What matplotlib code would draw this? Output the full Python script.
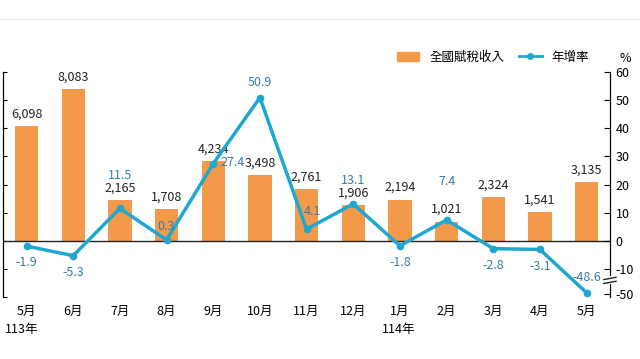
import numpy as np
import matplotlib.pyplot as plt
from matplotlib.patches import Patch
from matplotlib.lines import Line2D
import matplotlib.transforms as mtransforms

plt.rcParams['font.family'] = ['Noto Sans CJK TC', 'DejaVu Sans']

months = ['5月', '6月', '7月', '8月', '9月', '10月', '11月', '12月',
          '1月', '2月', '3月', '4月', '5月']
revenue = [6098, 8083, 2165, 1708, 4234, 3498, 2761, 1906, 2194, 1021, 2324, 1541, 3135]
growth = [-1.9, -5.3, 11.5, 0.3, 27.4, 50.9, 4.1, 13.1, -1.8, 7.4, -2.8, -3.1, -48.6]
right_ticks = [-50, -10, 0, 10, 20, 30, 40, 50, 60]

bar_c = '#F39A4A'
line_c = '#1EA7D0'
lab_c = '#3B7BA6'


def brk(v):
    # broken axis below -10
    return v if v >= -10 else -10 + (v + 10) * 0.22


fig = plt.figure(figsize=(6.4, 3.59), dpi=100)
ax = fig.add_axes([0.005, 0.1727, 0.948, 0.6267])
ax2 = ax.twinx()

x = np.arange(len(months))
ax.bar(x, revenue, width=0.5, color=bar_c, zorder=2)
ax.axhline(0, color='#222222', lw=1.0, zorder=3)
ax.set_ylim(-3000, 9000)
ax.set_yticks(np.arange(-3000, 9001, 1500))
ax.set_yticklabels([])
ax.set_xlim(-0.5, 12.5)
ax.set_xticks(x)
ax.set_xticklabels(months, fontsize=9)
ax.tick_params(axis='x', length=0, pad=6)
ax.tick_params(axis='y', direction='in', length=3)
for s in ['top', 'bottom']:
    ax.spines[s].set_visible(False)
    ax2.spines[s].set_visible(False)

for xi, v in zip(x, revenue):
    ax.annotate(f'{v:,}', (xi, v), xytext=(0, 4), textcoords='offset points',
                ha='center', va='bottom', fontsize=9, color='#222222')

g = [brk(v) for v in growth]
ax2.plot(x, g, color=line_c, lw=2.5, marker='o', ms=4.5, zorder=5)
ax2.set_ylim(-20, 60)
ax2.set_yticks([brk(v) for v in right_ticks])
ax2.set_yticklabels([str(v) for v in right_ticks], fontsize=9)
ax2.tick_params(axis='y', direction='in', length=4, pad=4)
ax2.text(1.025, 1.03, '%', transform=ax2.transAxes, fontsize=9, ha='center', va='bottom')

# growth labels: offsets in points
offs = [(0, -12), (0, -12), (0, 24), (0, 10), (14, 1), (0, 11), (4, 13),
        (0, 17), (0, -12), (0, 28), (0, -12), (0, -12), (0, 11)]
for xi, gv, v, (dx, dy) in zip(x, g, growth, offs):
    ax2.annotate(f'{v}', (xi, gv), xytext=(dx, dy), textcoords='offset points',
                 ha='center', va='center', fontsize=9, color=lab_c, zorder=6)

# axis break marks on right spine
tr = mtransforms.blended_transform_factory(ax2.transAxes, ax2.transData)
ax2.plot([1, 1], [-14.8, -13.4], color='white', lw=3, transform=tr, clip_on=False, zorder=7)
for yy in [-14.8, -13.4]:
    ax2.plot([0.99, 1.01], [yy - 0.4, yy + 0.4], color='#222222', lw=1,
             transform=tr, clip_on=False, zorder=8)

fig.text(0.008, 0.083, '113年', fontsize=9, ha='left', va='center')
fig.text(0.623, 0.083, '114年', fontsize=9, ha='center', va='center')

handles = [Patch(color=bar_c), Line2D([], [], color=line_c, lw=2, marker='o', ms=4)]
fig.legend(handles, ['全國賦稅收入', '年增率'], loc='center', bbox_to_anchor=(0.77, 0.841),
           ncol=2, frameon=False, fontsize=9, handlelength=1.8, columnspacing=1.2)

fig.add_artist(Line2D([0, 1], [0.947, 0.947], color='#EEEEEE', lw=1, transform=fig.transFigure))

fig.savefig('out.png', dpi=100)
